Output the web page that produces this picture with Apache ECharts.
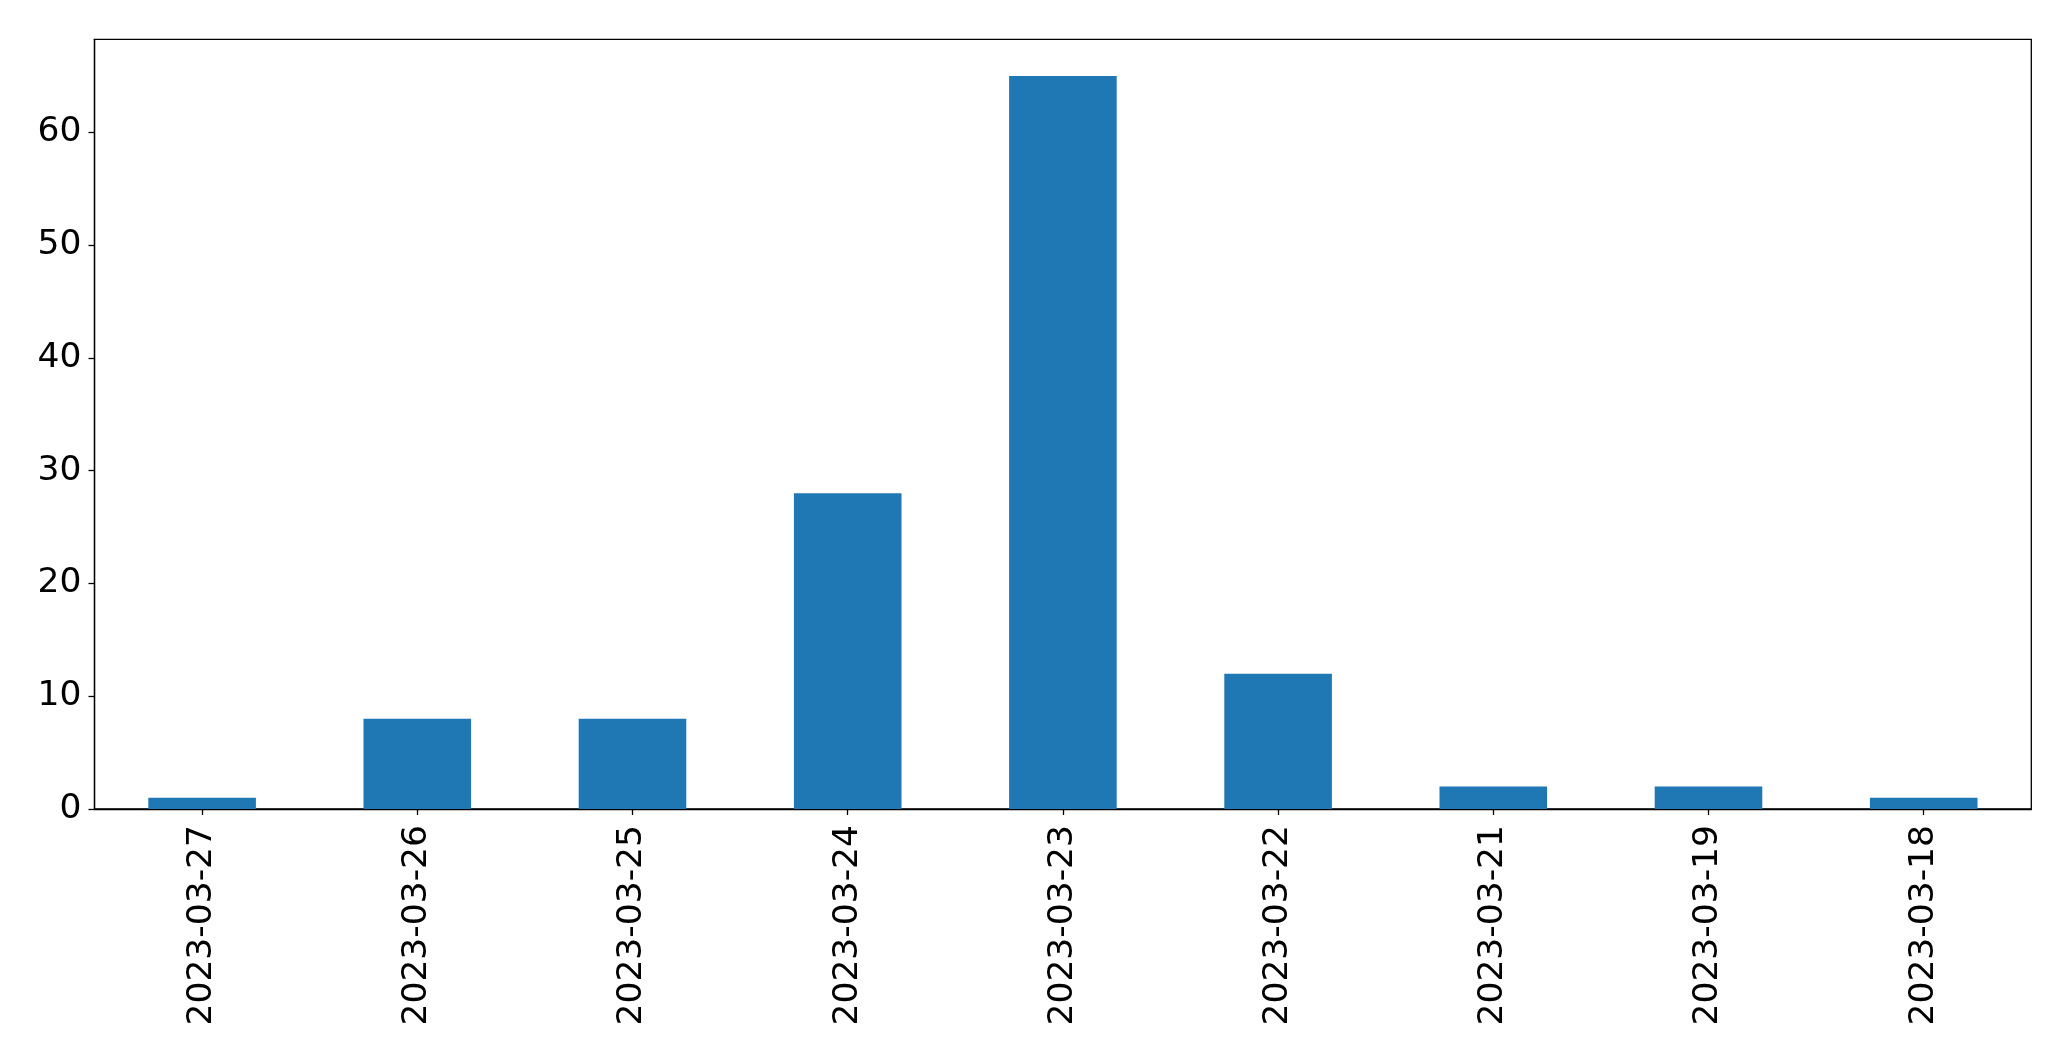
<!DOCTYPE html>
<html><head><meta charset="utf-8">
<script src="https://cdn.jsdelivr.net/npm/echarts@6/dist/echarts.min.js"></script>
<style>html,body{margin:0;padding:0;background:#fff}#c{width:2071px;height:1061px}</style>
</head><body><div id="c"></div>
<script>
const categories = ['2023-03-27','2023-03-26','2023-03-25','2023-03-24','2023-03-23','2023-03-22','2023-03-21','2023-03-19','2023-03-18'];
const values = [1, 8, 8, 28, 65, 12, 2, 2, 1];
const yTicks = [0, 10, 20, 30, 40, 50, 60];

const chart = echarts.init(document.getElementById('c'), null, {renderer: 'canvas'});
const font = 'DejaVu Sans';
chart.setOption({
  animation: false,
  backgroundColor: '#ffffff',
  grid: {left: 94.5, right: 39.7, top: 39.3, bottom: 252, show: true, borderColor: '#000', borderWidth: 1.3, backgroundColor: 'transparent', containLabel: false},
  xAxis: {
    type: 'category', data: categories, boundaryGap: true,
    axisLine: {show: true, lineStyle: {color: '#000', width: 1.3}},
    axisTick: {show: true, alignWithLabel: true, length: 6, lineStyle: {color: '#000', width: 1.3}},
    axisLabel: {rotate: 90, margin: 16, fontFamily: font, fontSize: 34.5, color: '#000', interval: 0},
    splitLine: {show: false}
  },
  yAxis: {
    type: 'value', min: 0, max: 68.25, interval: 10,
    axisLine: {show: true, lineStyle: {color: '#000', width: 1.3}},
    axisTick: {show: true, length: 6, lineStyle: {color: '#000', width: 1.3}},
    axisLabel: {margin: 13, fontFamily: font, fontSize: 34.5, color: '#000', padding: [5, 0, 0, 0],
      formatter: v => yTicks.includes(v) ? String(v) : '', showMaxLabel: false},
    splitLine: {show: false}
  },
  series: [{type: 'bar', data: values, barWidth: '50%', itemStyle: {color: '#1f77b4'}}]
});
</script></body></html>
